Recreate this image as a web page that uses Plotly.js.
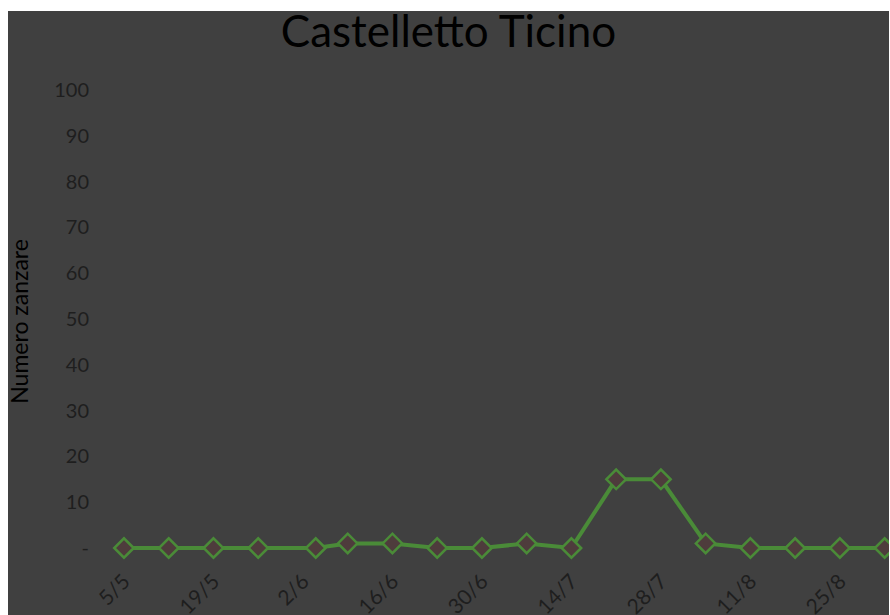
<!DOCTYPE html>
<html>
<head>
<meta charset="utf-8">
<script src="https://cdn.plot.ly/plotly-3.0.1.min.js"></script>
<style>
html,body{margin:0;padding:0;background:#ffffff;width:890px;height:615px;overflow:hidden;}
#chart{position:absolute;left:8px;top:11px;width:881px;height:604px;}
</style>
</head>
<body>
<div id="chart"></div>
<script>
const dates = ["2012-05-05","2012-05-12","2012-05-19","2012-05-26","2012-06-04","2012-06-09","2012-06-16","2012-06-23","2012-06-30","2012-07-07","2012-07-14","2012-07-21","2012-07-28","2012-08-04","2012-08-11","2012-08-18","2012-08-25","2012-09-01"];
const counts = [0,0,0,0,0,1,1,0,0,1,0,15,15,1,0,0,0,0];
const yTickVals = [0,10,20,30,40,50,60,70,80,90,100];
const yTickText = ["-","10","20","30","40","50","60","70","80","90","100"];
const xTickVals = ["2012-05-05","2012-05-19","2012-06-02","2012-06-16","2012-06-30","2012-07-14","2012-07-28","2012-08-11","2012-08-25"];
const xTickText = ["5/5","19/5","2/6","16/6","30/6","14/7","28/7","11/8","25/8"];

const trace = {
  x: dates, y: counts, type: 'scatter', mode: 'lines+markers',
  line: {color: '#4a8b38', width: 4},
  marker: {symbol: 'diamond', size: 15, color: '#4e3c3c', line: {color: '#4a8b38', width: 2.5}},
  cliponaxis: false, hoverinfo: 'skip'
};

const layout = {
  width: 881, height: 604,
  paper_bgcolor: '#404040', plot_bgcolor: '#404040',
  margin: {l: 92, r: 0, t: 49, b: 55},
  showlegend: false,
  title: {text: 'Castelletto Ticino', x: 0.5, xref: 'container', xanchor: 'center', y: 0.992, yref: 'container', yanchor: 'top',
          pad: {t: 0, b: 0, l: 0, r: 0},
          font: {family: 'Lato, sans-serif', size: 44, color: '#000000'}},
  annotations: [{
    text: 'Numero zanzare', textangle: -90, xref: 'paper', yref: 'paper',
    x: -0.103, y: 0.478, xanchor: 'center', yanchor: 'middle', showarrow: false,
    font: {family: 'Lato, sans-serif', size: 23, color: '#000000'}
  }],
  xaxis: {
    type: 'date',
    range: ['2012-05-01 06:00', '2012-09-01 16:30'],
    tickvals: xTickVals, ticktext: xTickText, tickangle: -45,
    showgrid: false, zeroline: false, showline: false, ticks: '',
    ticklabelstandoff: 4,
    tickfont: {family: 'Lato, sans-serif', size: 21, color: '#1e1e1e'}
  },
  yaxis: {
    range: [-2.62, 106.55],
    tickvals: yTickVals, ticktext: yTickText,
    showgrid: false, zeroline: false, showline: false, ticks: '',
    ticklabelstandoff: 10,
    tickfont: {family: 'Lato, sans-serif', size: 20, color: '#1e1e1e'}
  }
};

Plotly.newPlot('chart', [trace], layout, {displayModeBar: false, staticPlot: true});
</script>
</body>
</html>
